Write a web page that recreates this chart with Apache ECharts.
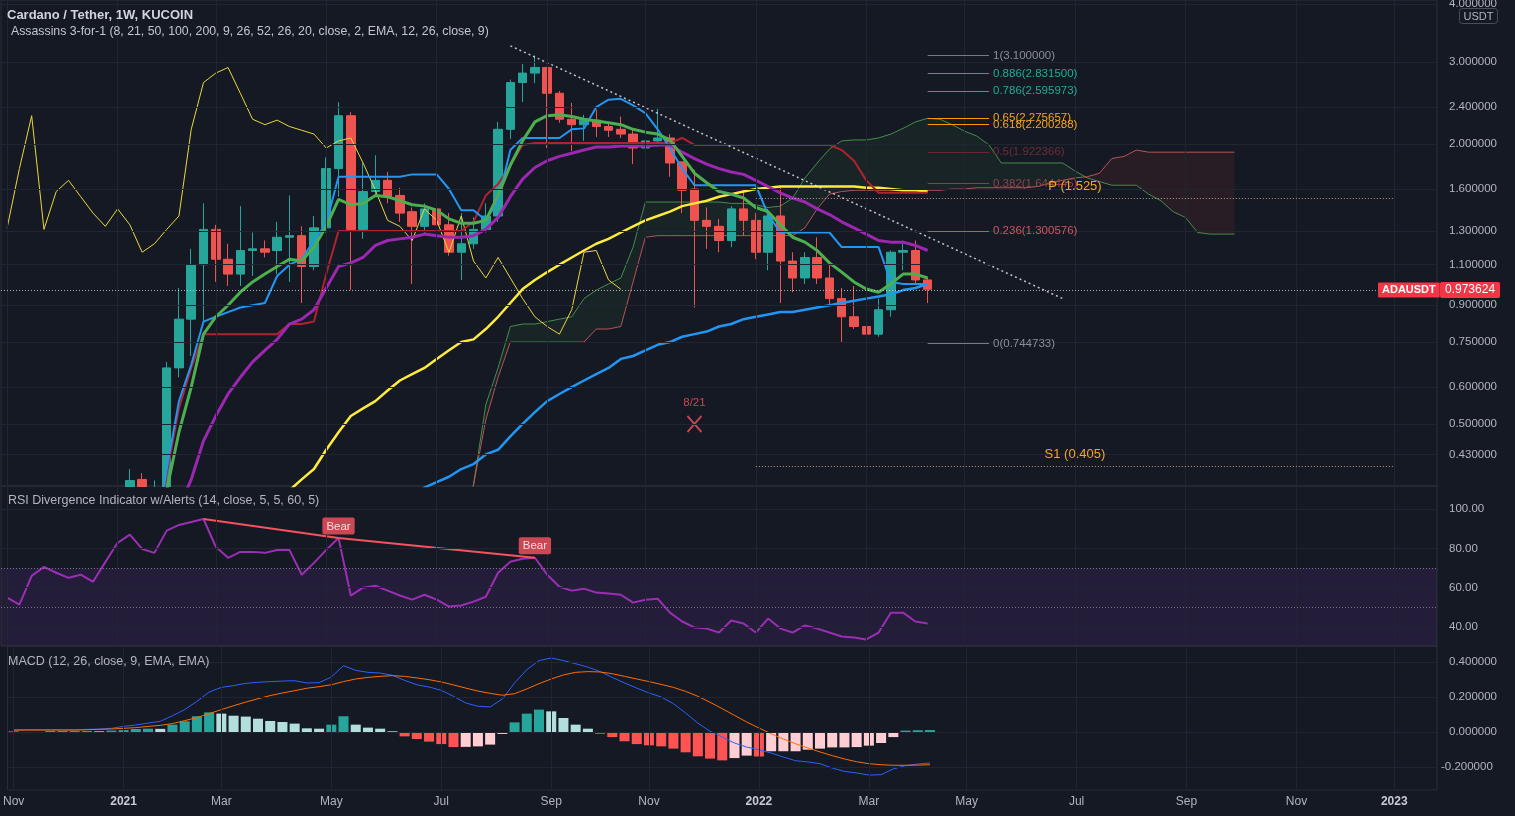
<!DOCTYPE html>
<html>
<head>
<meta charset="utf-8">
<title>ADAUSDT 1W</title>
<script src="https://cdn.jsdelivr.net/npm/echarts@6.0.0/dist/echarts.min.js"></script>
<style>
html,body{margin:0;padding:0;background:#151924;overflow:hidden;}
#chart{width:1515px;height:816px;}
</style>
</head>
<body>
<div id="chart"></div>
<script>
// ================= DATA =================
const weekCount = 117; // weekly bars from 2020-11-02
const categories = [];
for (let i = 0; i < weekCount; i++) {
  categories.push(new Date(Date.UTC(2020, 10, 2 + 7 * i)).toISOString().slice(0, 10));
}
const monthNames = ['Jan','Feb','Mar','Apr','May','Jun','Jul','Aug','Sep','Oct','Nov','Dec'];
const pad = (n, arr) => new Array(n).fill(null).concat(arr);

// [open, close, low, high]
const ohlc = [
 [0.096,0.104,0.089,0.107],[0.104,0.104,0.097,0.112],[0.104,0.155,0.101,0.174],[0.155,0.151,0.138,0.175],
 [0.151,0.160,0.145,0.168],[0.160,0.150,0.133,0.162],[0.150,0.168,0.142,0.175],[0.168,0.158,0.147,0.189],
 [0.158,0.180,0.143,0.188],[0.180,0.305,0.171,0.340],[0.305,0.378,0.290,0.400],[0.380,0.335,0.290,0.392],
 [0.335,0.362,0.318,0.378],[0.362,0.660,0.345,0.680],[0.660,0.840,0.630,0.980],[0.840,1.100,0.700,1.190],
 [1.100,1.310,0.830,1.490],[1.310,1.130,1.010,1.340],[1.130,1.050,0.990,1.220],[1.050,1.180,0.990,1.470],
 [1.180,1.190,1.040,1.290],[1.190,1.170,1.140,1.240],[1.180,1.260,1.050,1.360],[1.260,1.270,1.010,1.550],
 [1.270,1.090,0.910,1.330],[1.090,1.320,1.070,1.400],[1.320,1.770,1.290,1.870],[1.770,2.300,1.540,2.460],
 [2.300,1.310,0.970,2.340],[1.310,1.580,1.250,1.820],[1.580,1.670,1.540,1.890],[1.670,1.540,1.490,1.740],
 [1.550,1.420,1.360,1.610],[1.430,1.330,1.000,1.460],[1.330,1.450,1.290,1.490],[1.450,1.340,1.280,1.500],
 [1.340,1.170,1.150,1.420],[1.170,1.220,1.020,1.420],[1.220,1.310,1.190,1.390],[1.310,1.400,1.290,1.490],
 [1.400,2.150,1.360,2.230],[2.150,2.710,2.050,2.750],[2.710,2.840,2.460,2.970],[2.840,2.920,2.700,3.100],
 [2.920,2.570,1.960,2.930],[2.570,2.260,2.220,2.600],[2.260,2.200,1.930,2.450],[2.200,2.250,2.030,2.310],
 [2.250,2.180,2.070,2.370],[2.180,2.140,2.070,2.230],[2.150,2.100,2.060,2.290],[2.100,1.960,1.810,2.160],
 [1.960,2.030,1.940,2.070],[2.030,2.060,1.970,2.380],[2.060,1.820,1.700,2.100],[1.830,1.590,1.420,1.830],
 [1.600,1.370,0.890,1.760],[1.370,1.330,1.190,1.460],[1.330,1.240,1.170,1.380],[1.240,1.450,1.200,1.470],
 [1.450,1.370,1.270,1.600],[1.370,1.170,1.130,1.420],[1.170,1.400,1.070,1.450],[1.400,1.120,0.910,1.620],
 [1.120,1.030,0.960,1.170],[1.030,1.140,1.000,1.170],[1.140,1.030,1.000,1.260],[1.030,0.930,0.900,1.110],
 [0.930,0.850,0.750,0.980],[0.850,0.810,0.800,0.990],[0.810,0.780,0.770,0.860],[0.780,0.880,0.770,0.930],
 [0.880,1.170,0.850,1.180],[1.170,1.180,1.070,1.240],[1.180,1.020,1.000,1.240],[1.020,0.974,0.910,1.030]
];

const ema8 = pad(12, [0.30,0.36,0.48,0.60,0.78,0.85,0.90,0.96,1.01,1.05,
 1.09,1.13,1.12,1.20,1.33,1.52,1.48,1.49,1.55,1.54,
 1.51,1.48,1.47,1.44,1.38,1.35,1.35,1.37,1.55,1.80,
 2.03,2.23,2.30,2.31,2.29,2.26,2.24,2.22,2.20,2.15,
 2.12,2.10,2.04,1.88,1.73,1.65,1.58,1.56,1.53,1.46,
 1.43,1.34,1.26,1.23,1.18,1.11,1.06,1.01,0.975,0.96,
 1.00,1.05,1.05,1.03]);

const ema21 = pad(13, [0.28,0.33,0.38,0.46,0.52,0.58,0.63,0.68,0.72,0.76,
 0.82,0.84,0.88,0.98,1.09,1.11,1.14,1.21,1.24,1.25,
 1.26,1.28,1.27,1.26,1.26,1.27,1.31,1.39,1.54,1.68,
 1.78,1.84,1.88,1.91,1.94,1.97,1.97,1.98,1.98,1.98,
 1.99,1.99,1.92,1.86,1.81,1.77,1.74,1.72,1.67,1.62,
 1.57,1.53,1.50,1.45,1.41,1.36,1.32,1.28,1.24,1.23,
 1.23,1.21,1.18]);

const ema50 = pad(20, [0.30,0.32,0.34,0.36,0.38,0.40,0.44,0.48,0.52,0.54,
 0.56,0.59,0.62,0.64,0.66,0.69,0.72,0.75,0.76,0.80,
 0.85,0.91,0.975,1.02,1.06,1.10,1.14,1.18,1.22,1.25,
 1.29,1.33,1.37,1.40,1.43,1.47,1.49,1.51,1.54,1.56,
 1.58,1.60,1.61,1.62,1.62,1.62,1.62,1.62,1.62,1.62,
 1.61,1.61,1.60,1.59,1.59,1.58]);

const ema100 = pad(32, [0.33,0.35,0.365,0.375,0.385,0.40,0.41,0.43,0.44,0.47,
 0.50,0.53,0.56,0.58,0.60,0.62,0.64,0.66,0.69,0.70,
 0.72,0.74,0.75,0.77,0.78,0.79,0.81,0.82,0.84,0.85,
 0.86,0.87,0.87,0.88,0.89,0.90,0.91,0.92,0.93,0.94,
 0.95,0.97,0.98,1.00]);

const tenkan = pad(12, [0.27,0.40,0.56,0.67,0.83,0.85,0.87,0.89,0.90,0.91,
 1.04,1.10,1.13,1.24,1.35,1.70,1.70,1.70,1.70,1.70,
 1.70,1.72,1.72,1.72,1.60,1.44,1.44,1.37,1.51,1.94,
 2.06,2.06,2.06,2.06,2.15,2.16,2.40,2.49,2.50,2.42,
 2.33,2.15,1.96,1.77,1.63,1.63,1.63,1.63,1.63,1.63,
 1.41,1.29,1.29,1.29,1.29,1.29,1.20,1.20,1.20,1.20,
 1.01,1.00,1.00,1.00]);

const kijun = pad(12, [0.25,0.39,0.54,0.66,0.78,0.78,0.78,0.78,0.78,0.78,
 0.78,0.82,0.82,0.83,1.05,1.30,1.30,1.30,1.30,1.30,
 1.30,1.30,1.30,1.30,1.30,1.30,1.36,1.55,1.64,1.80,
 1.99,2.01,2.01,2.01,2.01,2.01,2.01,2.01,2.01,2.01,
 2.01,2.01,2.01,2.06,1.99,1.99,1.99,1.99,1.99,1.99,
 1.99,1.99,1.99,1.99,1.99,1.99,1.94,1.84,1.67,1.57,
 1.57,1.57,1.57,1.57]);

// lagging span
const chikou = [1.32,1.77,2.30,1.31,1.58,1.67,1.54,1.42,1.33,1.45,
 1.34,1.17,1.22,1.31,1.40,2.15,2.71,2.84,2.92,2.57,
 2.26,2.20,2.25,2.18,2.14,2.10,1.96,2.03,2.06,1.82,
 1.59,1.37,1.33,1.24,1.45,1.37,1.17,1.40,1.12,1.03,
 1.14,1.03,0.93,0.85,0.81,0.78,0.88,1.17,1.18,1.02,0.974];

const senkouA = pad(36, [0.25,0.32,0.37,0.55,0.66,0.81,0.82,0.82,0.83,0.84,
 0.85,0.93,0.97,1.00,1.03,1.20,1.50,1.50,1.50,1.50,
 1.50,1.50,1.50,1.49,1.49,1.48,1.46,1.47,1.53,1.69,
 1.82,1.95,2.03,2.04,2.04,2.06,2.10,2.16,2.23,2.27,
 2.26,2.20,2.13,2.08,1.99,1.82,1.82,1.82,1.82,1.82,
 1.82,1.75,1.69,1.66,1.63,1.63,1.63,1.56,1.51,1.43,
 1.39,1.29,1.28,1.28,1.28]);

const senkouB = pad(36, [0.24,0.30,0.37,0.51,0.63,0.75,0.75,0.75,0.75,0.75,
 0.75,0.75,0.80,0.80,0.81,1.01,1.26,1.27,1.27,1.27,
 1.27,1.27,1.27,1.27,1.27,1.27,1.27,1.27,1.27,1.32,
 1.45,1.56,1.58,1.59,1.59,1.59,1.59,1.59,1.59,1.59,
 1.59,1.60,1.60,1.61,1.61,1.61,1.61,1.61,1.62,1.65,
 1.67,1.69,1.70,1.73,1.86,1.88,1.94,1.92,1.92,1.92,
 1.92,1.92,1.92,1.92,1.92]);

const rsi = [55,51.4,66,70.6,67.6,65,66.6,63,73,82.8,
 87,79.7,77.7,89,91.9,93.4,94.9,80.8,75.2,78.2,
 78.2,77.7,79.2,79.2,66.6,72.6,79.2,85.3,56,60,
 61,58.5,56,53.9,56.4,53.9,50.4,50.9,52.9,55.4,
 67.6,73.2,74.7,75.2,66.6,60.5,58.5,59.5,57.5,57,
 56.4,52.4,53.9,54.4,47.3,42.8,39.8,39.2,37.2,43.3,
 41.8,37.2,44.3,39.2,37.2,40.8,39.2,37.2,35.2,34.7,
 33.7,37.2,47.3,47.3,42.8,41.8];
const bearPoints = [[16, 94.9], [27, 85.3], [43, 75.2]];

const macdLine = [0.013,0.013,0.013,0.013,0.013,0.013,0.015,0.017,0.021,0.032,
 0.04,0.051,0.061,0.093,0.128,0.175,0.228,0.255,0.265,0.278,
 0.284,0.288,0.291,0.293,0.28,0.282,0.314,0.379,0.352,0.341,
 0.337,0.324,0.295,0.27,0.257,0.238,0.204,0.166,0.147,0.143,
 0.189,0.28,0.356,0.408,0.423,0.408,0.39,0.371,0.345,0.312,
 0.28,0.251,0.223,0.2,0.162,0.109,0.051,0.004,-0.029,-0.063,
 -0.086,-0.101,-0.12,-0.143,-0.164,-0.171,-0.181,-0.206,-0.225,-0.234,
 -0.246,-0.244,-0.211,-0.192,-0.183,-0.177];
const signalLine = [0.01,0.011,0.011,0.011,0.011,0.011,0.013,0.015,0.017,0.021,
 0.025,0.032,0.038,0.048,0.065,0.082,0.105,0.128,0.15,0.171,
 0.19,0.208,0.223,0.236,0.25,0.259,0.27,0.288,0.303,0.312,
 0.318,0.322,0.318,0.309,0.299,0.286,0.269,0.251,0.234,0.221,
 0.21,0.219,0.246,0.276,0.303,0.326,0.341,0.345,0.343,0.333,
 0.318,0.303,0.288,0.272,0.255,0.232,0.204,0.17,0.133,0.095,
 0.057,0.023,-0.01,-0.04,-0.067,-0.091,-0.114,-0.135,-0.154,-0.17,
 -0.181,-0.187,-0.19,-0.19,-0.189,-0.187];
const macdHist = [0.004,-0.006,-0.004,0.006,0.006,0.006,0.006,0.004,0.008,0.011,
 0.017,0.019,0.018,0.042,0.061,0.09,0.112,0.105,0.093,0.088,
 0.076,0.063,0.057,0.048,0.021,0.019,0.042,0.09,0.042,0.025,
 0.019,0.004,-0.025,-0.04,-0.055,-0.069,-0.086,-0.085,-0.082,-0.072,
 -0.011,0.055,0.105,0.128,0.118,0.08,0.042,0.019,-0.01,-0.029,
 -0.053,-0.069,-0.076,-0.082,-0.095,-0.116,-0.139,-0.152,-0.162,-0.149,
 -0.135,-0.14,-0.11,-0.11,-0.11,-0.101,-0.095,-0.088,-0.088,-0.086,
 -0.078,-0.063,-0.029,0.008,0.01,0.011];

// tick labels / annotations
const priceTicks = [4, 3, 2.4, 2, 1.6, 1.3, 1.1, 0.9, 0.75, 0.6, 0.5, 0.43];
const rsiTicks = [100, 80, 60, 40];
const macdTicks = [0.4, 0.2, 0, -0.2];
const lastPrice = 0.973624;
const fibLevels = ['1', '0.886', '0.786', '0.65', '0.618', '0.5', '0.382', '0.236', '0'];
const fibPrices = [3.1, 2.8315, 2.595973, 2.275657, 2.200288, 1.922366, 1.644445, 1.300576, 0.744733];
const fibWeeks = [75, 80];
const pivotLevels = [['P', 1.525], ['S1', 0.405]];
const pivotWeeks = [61, 113];
const trendPoints = [[41, 3.25], [86, 0.93]];
const marker821 = [56, 0.5];

// ================= STYLE =================
const FONT = '"Liberation Sans", Arial, sans-serif';
const BG = '#151924';
const TXT = '#b2b5be';
const GRIDC = '#212531';
const fibLineColors = ['#787b86','#22ab94','#22ab94','#ff9800','#ff9800','#6d2630','#8e3d44','#d0505d','#787b86'];
const fibTextColors = ['#8b8e98','#22ab94','#22ab94','#f5a320','#f5a320','#6a2f38','#8c454c','#d25461','#8b8e98'];

function tickText(i) {
  const d = new Date(categories[i] + 'T00:00:00Z');
  const m = d.getUTCMonth();
  const prev = i > 0 ? new Date(categories[i - 1] + 'T00:00:00Z').getUTCMonth() : -1;
  if (m === prev || m % 2 !== 0) return null;
  return m === 0 ? '{y|' + d.getUTCFullYear() + '}' : monthNames[m];
}
const xTickIdx = [];
for (let i = 0; i < weekCount; i++) if (tickText(i)) xTickIdx.push(i);

function gridLines(xi, yi, ticks, fmt, dist, z) {
  return {
    type: 'line', xAxisIndex: xi, yAxisIndex: yi, data: [], silent: true, z: z,
    markLine: {
      symbol: 'none', silent: true, animation: false,
      lineStyle: { color: GRIDC, width: 1, type: 'solid' },
      label: { show: false },
      data: xTickIdx.map(i => ({ xAxis: categories[i] })).concat(
        ticks.map(v => ({
          yAxis: v,
          label: { show: true, position: 'end', distance: dist(v), formatter: fmt(v),
                   color: TXT, fontSize: 11.5, fontFamily: FONT }
        })))
    }
  };
}

const cloudBase = senkouA.map((a, i) => a == null ? null : Math.min(a, senkouB[i]));
const cloudUp = senkouA.map((a, i) => a == null ? null : Math.max(a - senkouB[i], 0));
const cloudDown = senkouA.map((a, i) => a == null ? null : Math.max(senkouB[i] - a, 0));

const histData = macdHist.map((v, i) => {
  const p = i > 0 ? macdHist[i - 1] : 0;
  let c;
  if (v >= 0) c = v >= p ? '#26a69a' : '#b2dfdb';
  else c = v < p ? '#ff5252' : '#ffcdd2';
  return { value: v, itemStyle: { color: c } };
});

const lineS = (name, data, color, width, extra) => Object.assign({
  name, type: 'line', xAxisIndex: 0, yAxisIndex: 0, data, symbol: 'none', showSymbol: false,
  silent: true, lineStyle: { color, width }, connectNulls: false, clip: true
}, extra || {});

const xAxisBase = (gi, showLabel) => ({
  type: 'category', gridIndex: gi, data: categories, boundaryGap: true,
  axisLine: { show: false }, axisTick: { show: false }, splitLine: { show: false },
  axisLabel: showLabel ? {
    show: true, color: TXT, fontSize: 12, fontFamily: FONT, margin: 6,
    interval: (idx) => xTickIdx.indexOf(idx) >= 0,
    formatter: (val, idx) => tickText(idx) || '',
    rich: { y: { fontWeight: 'bold', color: '#c8cbd3', fontSize: 12, fontFamily: FONT } }
  } : { show: false }
});

const option = {
  backgroundColor: BG,
  animation: false,
  textStyle: { fontFamily: FONT },
  title: [
    { text: 'Cardano / Tether, 1W, KUCOIN', left: 7, top: 9, padding: 0, z: 20,
      textStyle: { color: '#d1d4dc', fontSize: 13, fontWeight: 'bold', fontFamily: FONT } },
    { text: 'Assassins 3-for-1 (8, 21, 50, 100, 200, 9, 26, 52, 26, 20, close, 2, EMA, 12, 26, close, 9)',
      left: 11, top: 26, padding: 0, z: 20,
      textStyle: { color: '#c3c6ce', fontSize: 12.3, fontWeight: 'normal', fontFamily: FONT } },
    { text: 'RSI Divergence Indicator w/Alerts (14, close, 5, 5, 60, 5)', left: 8, top: 494, padding: 0, z: 20,
      textStyle: { color: '#b2b5be', fontSize: 12.5, fontWeight: 'normal', fontFamily: FONT } },
    { text: 'MACD (12, 26, close, 9, EMA, EMA)', left: 8, top: 655, padding: 0, z: 20,
      textStyle: { color: '#b2b5be', fontSize: 12.5, fontWeight: 'normal', fontFamily: FONT } }
  ],
  grid: [
    { left: 1, top: 0, width: 1436, height: 486, show: true, borderColor: '#2a2e39', borderWidth: 1, backgroundColor: 'transparent' },
    { left: 1, top: 486, width: 1436, height: 160, show: true, borderColor: '#2a2e39', borderWidth: 1, backgroundColor: 'transparent' },
    { left: 1, top: 646, width: 1436, height: 144, show: true, borderColor: '#2a2e39', borderWidth: 1, backgroundColor: 'transparent' }
  ],
  xAxis: [xAxisBase(0, false), xAxisBase(1, false), xAxisBase(2, true)],
  yAxis: [
    { type: 'log', logBase: 10, gridIndex: 0, min: 0.3678, max: 4.078, show: false },
    { type: 'value', gridIndex: 1, min: 30.35, max: 111.69, show: false },
    { type: 'value', gridIndex: 2, min: -0.3314, max: 0.4914, show: false }
  ],
  graphic: [
    // pane mask: keeps the lowest candles' overflow out of the RSI pane
    { type: 'rect', z: 0.95, silent: true, shape: { x: 2, y: 487, width: 1434, height: 158 }, style: { fill: BG } },
    {
      type: 'group', left: 1459, top: 8, z: 100,
      children: [
        { type: 'rect', shape: { x: 0, y: 0, width: 38, height: 15, r: 3 },
          style: { fill: BG, stroke: '#4a4e5a', lineWidth: 1 } },
        { type: 'text', style: { x: 19, y: 8, text: 'USDT', fill: '#b2b5be', font: '11px ' + FONT,
          align: 'center', verticalAlign: 'middle' } }
      ]
    }
  ],
  series: [
    // ---------- price pane ----------
    gridLines(0, 0, priceTicks, v => v.toFixed(6), () => 12, 0.5),
    lineS('cloudBase', cloudBase, 'transparent', 0, { stack: 'cloud', lineStyle: { opacity: 0 }, z: 0.6 }),
    lineS('cloudUp', cloudUp, 'transparent', 0, { stack: 'cloud', lineStyle: { opacity: 0 }, z: 0.6,
      areaStyle: { color: 'rgba(67,160,71,0.13)' } }),
    lineS('cloudDown', cloudDown, 'transparent', 0, { stack: 'cloud', lineStyle: { opacity: 0 }, z: 0.6,
      areaStyle: { color: 'rgba(244,67,54,0.12)' } }),
    lineS('Senkou A', senkouA, '#43a047', 1, { lineStyle: { color: '#4a9a4e', width: 1, opacity: 0.9 }, z: 0.7 }),
    lineS('Senkou B', senkouB, '#d0605e', 1, { lineStyle: { color: '#c95a5a', width: 1, opacity: 0.9 }, z: 0.7 }),
    {
      name: 'ADAUSDT', type: 'candlestick', xAxisIndex: 0, yAxisIndex: 0, data: ohlc, barWidth: 9, silent: true,
      clip: true, z: 0.9,
      itemStyle: { color: '#26a69a', color0: '#ef5350', borderColor: '#26a69a', borderColor0: '#ef5350', borderWidth: 1 }
    },
    lineS('Lagging', chikou, '#ffeb3b', 1, { lineStyle: { color: '#e8d83a', width: 1 } }),
    lineS('EMA100', ema100, '#2196f3', 2.5),
    lineS('EMA50', ema50, '#ffeb3b', 2.5),
    lineS('Kijun', kijun, '#b2222e', 2),
    lineS('Tenkan', tenkan, '#2196f3', 2),
    lineS('EMA21', ema21, '#9c27b0', 3),
    lineS('EMA8', ema8, '#4caf50', 3),
    lineS('Trend', trendPoints.map(p => [categories[p[0]], p[1]]), 'rgba(255,255,255,0.75)', 1.5,
      { lineStyle: { color: 'rgba(235,235,240,0.8)', width: 1.5, type: [2, 3] } }),
    {
      type: 'line', xAxisIndex: 0, yAxisIndex: 0, data: [], silent: true,
      markLine: {
        symbol: 'none', silent: true, animation: false,
        data: fibLevels.map((lvl, k) => [
          { coord: [categories[fibWeeks[0]], fibPrices[k]],
            lineStyle: { color: fibLineColors[k], width: 1, type: 'solid' },
            label: { show: true, position: 'end', distance: 4, formatter: lvl + '(' + fibPrices[k].toFixed(6) + ')',
                     color: fibTextColors[k], fontSize: 11.5, fontFamily: FONT } },
          { coord: [categories[fibWeeks[1]], fibPrices[k]] }
        ]).concat(pivotLevels.map(p => [
          { coord: [categories[pivotWeeks[0]], p[1]],
            lineStyle: { color: 'rgba(240,205,160,0.75)', width: 1, type: [1, 2] },
            label: { show: true, position: 'insideMiddleTop', distance: 6,
                     formatter: p[0] + ' (' + p[1] + ')', color: '#f5a623', fontSize: 13, fontFamily: FONT } },
          { coord: [categories[pivotWeeks[1]], p[1]] }
        ])).concat([
          { yAxis: lastPrice, lineStyle: { color: 'rgba(215,215,220,0.55)', width: 1, type: [1, 2] },
            label: { show: true, position: 'end', distance: 3, formatter: lastPrice.toFixed(6),
                     backgroundColor: '#f23645', color: '#ffffff', fontSize: 12, fontFamily: FONT,
                     padding: [2, 5, 2, 5], borderRadius: 2 } },
          { yAxis: lastPrice, lineStyle: { color: 'rgba(215,215,220,0.55)', width: 1, type: [1, 2] },
            label: { show: true, position: 'end', distance: -59, formatter: 'ADAUSDT',
                     backgroundColor: '#f23645', color: '#ffffff', fontSize: 11, fontWeight: 'bold', fontFamily: FONT,
                     padding: [2, 4, 2, 4], borderRadius: 1 } }
        ])
      }
    },
    {
      type: 'scatter', xAxisIndex: 0, yAxisIndex: 0, silent: true,
      data: [[categories[marker821[0]], marker821[1]]],
      symbol: 'path://M0,0L10,12M10,0L0,12', symbolSize: [14, 16],
      itemStyle: { color: 'transparent', borderColor: '#f7525f', borderWidth: 1.8 },
      label: { show: true, position: 'top', distance: 6, formatter: '8/21', color: '#f7525f', fontSize: 11.5, fontFamily: FONT }
    },
    // ---------- RSI pane ----------
    gridLines(1, 1, rsiTicks, v => v.toFixed(2), () => 12, 2),
    {
      name: 'RSI', type: 'line', xAxisIndex: 1, yAxisIndex: 1, data: rsi, symbol: 'none', silent: true, z: 3,
      lineStyle: { color: '#9a2fb3', width: 2 },
      markArea: { silent: true, z: 2, itemStyle: { color: 'rgba(126,60,194,0.14)' }, data: [[{ yAxis: 70 }, { yAxis: 30 }]] },
      markLine: { symbol: 'none', silent: true, label: { show: false },
        lineStyle: { color: 'rgba(150,152,162,0.7)', width: 1, type: [1, 2] }, data: [{ yAxis: 70 }, { yAxis: 50 }] }
    },
    {
      name: 'Bear line', type: 'line', xAxisIndex: 1, yAxisIndex: 1, silent: true, symbol: 'none', z: 3,
      data: bearPoints.map(p => [categories[p[0]], p[1]]), lineStyle: { color: '#f7525f', width: 2 }
    },
    {
      type: 'scatter', xAxisIndex: 1, yAxisIndex: 1, silent: true, symbolSize: 1, z: 5,
      itemStyle: { color: 'transparent' },
      data: bearPoints.slice(1).map(p => [categories[p[0]], p[1]]),
      label: { show: true, position: 'top', distance: 3, formatter: 'Bear', color: '#ffffff', fontSize: 11.5,
               fontFamily: FONT, backgroundColor: '#f7525f', padding: [3, 4, 2, 4], borderRadius: 2 }
    },
    // ---------- MACD pane ----------
    gridLines(2, 2, macdTicks, v => v.toFixed(6), v => v < 0 ? 4 : 12, 2),
    { name: 'Histogram', type: 'bar', xAxisIndex: 2, yAxisIndex: 2, data: histData, barWidth: '82%', silent: true },
    { name: 'MACD', type: 'line', xAxisIndex: 2, yAxisIndex: 2, data: macdLine, symbol: 'none', silent: true,
      lineStyle: { color: '#2962ff', width: 1 } },
    { name: 'Signal', type: 'line', xAxisIndex: 2, yAxisIndex: 2, data: signalLine, symbol: 'none', silent: true,
      lineStyle: { color: '#ff6d00', width: 1 } }
  ]
};

const chart = echarts.init(document.getElementById('chart'), null, { renderer: 'canvas' });
chart.setOption(option);
</script>
</body>
</html>
